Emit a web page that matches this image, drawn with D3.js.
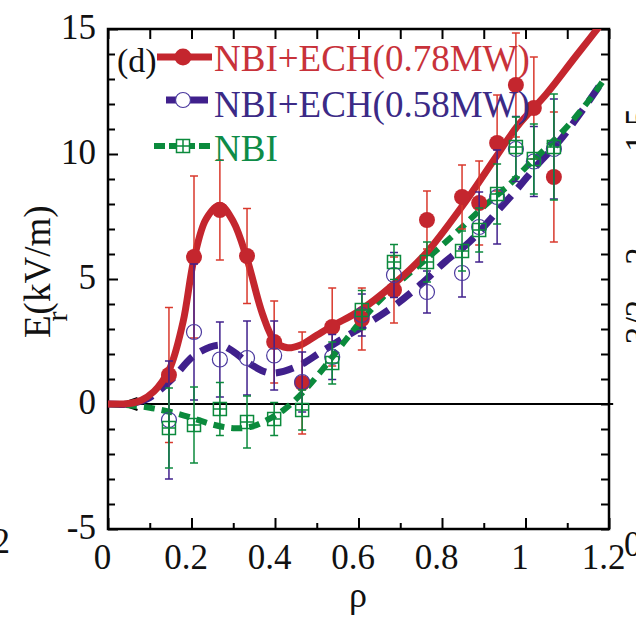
<!DOCTYPE html>
<html>
<head>
<meta charset="utf-8">
<script src="https://cdn.jsdelivr.net/npm/d3@7/dist/d3.min.js"></script>
<style>
  html, body { margin: 0; padding: 0; background: #fff; }
  svg { display: block; font-family: "Liberation Serif", "Times New Roman", serif; }
</style>
</head>
<body>
<svg id="chart" width="636" height="619"></svg>
<script>
'use strict';

// measured points (rho, Er, error)
var rho = [0.146, 0.206, 0.268, 0.333, 0.398, 0.465, 0.537, 0.608, 0.685, 0.764, 0.848, 0.889, 0.932, 0.977, 1.020, 1.068];

var er078 = [1.16, 5.88, 7.76, 5.92, 2.48, 0.84, 3.08, 3.40, 4.56, 7.36, 8.28, 8.04, 10.44, 12.76, 11.84, 9.08];
var err078 = [2.70, 3.24, 2.00, 1.90, 1.64, 2.04, 1.56, 1.24, 1.32, 1.16, 1.28, 1.68, 1.92, 2.08, 2.04, 2.60];

var er058 = [-0.64, 2.88, 1.78, 1.84, 1.94, 0.88, 1.88, 3.56, 5.16, 4.48, 5.24, 7.08, 8.28, 10.2, 9.7, 10.2];
var err058 = [2.36, 2.72, 1.50, 1.48, 1.38, 1.20, 0.90, 0.84, 0.90, 0.84, 0.96, 1.40, 1.88, 1.30, 1.40, 2.00];

var erNBI = [-0.96, -0.84, -0.20, -0.72, -0.60, -0.24, 1.64, 3.76, 5.68, 5.68, 6.12, 6.96, 8.40, 10.28, 9.80, 10.28];
var errNBI = [1.60, 1.52, 1.06, 1.04, 0.66, 0.80, 0.84, 0.78, 0.70, 0.80, 0.80, 0.88, 1.20, 1.20, 1.40, 2.12];

// fitted profiles
var fitRho078 = [0, 0.05, 0.08, 0.11, 0.13, 0.15, 0.18, 0.206, 0.235, 0.268, 0.3, 0.333, 0.37, 0.4, 0.43, 0.46, 0.5, 0.54, 0.6, 0.685, 0.76, 0.85, 0.93, 0.98, 1.05, 1.12, 1.2];
var fit078 = [0, 0.02, 0.15, 0.5, 0.9, 1.5, 3.3, 5.8, 7.4, 7.95, 7.3, 5.8, 3.6, 2.5, 2.25, 2.35, 2.75, 3.15, 3.7, 4.8, 6.0, 7.95, 9.9, 11.1, 12.4, 13.9, 15.6];

var fitRho058 = [0, 0.05, 0.093, 0.12, 0.156, 0.208, 0.268, 0.3, 0.333, 0.388, 0.453, 0.51, 0.57, 0.628, 0.69, 0.75, 0.807, 0.867, 0.927, 0.98, 1.03, 1.08, 1.13, 1.18];
var fit058 = [0, 0, 0.2, 0.5, 1.04, 1.96, 2.35, 2.1, 1.68, 1.24, 1.5, 2.08, 2.7, 3.28, 3.98, 4.8, 5.68, 6.5, 7.6, 8.6, 9.6, 10.5, 11.6, 12.8];

var fitRhoNBI = [0, 0.05, 0.1, 0.15, 0.2, 0.25, 0.3, 0.34, 0.38, 0.42, 0.46, 0.5, 0.55, 0.6, 0.66, 0.72, 0.78, 0.84, 0.9, 0.96, 1.0, 1.05, 1.1, 1.15, 1.185];
var fitNBI = [0, -0.05, -0.15, -0.32, -0.55, -0.82, -0.97, -0.92, -0.65, -0.25, 0.35, 1.1, 2.15, 3.2, 4.3, 5.2, 6.05, 6.95, 7.9, 8.75, 9.45, 10.25, 11.1, 12.1, 12.9];

var legendLabels = ['NBI+ECH(0.78MW)', 'NBI+ECH(0.58MW)', 'NBI'];
var xTicks = [0, 0.2, 0.4, 0.6, 0.8, 1, 1.2];
var xMinor = [0.1, 0.3, 0.5, 0.7, 0.9, 1.1];
var yTicks = [-5, 0, 5, 10, 15];
var yMinor = d3.range(-4, 15, 1).filter(function (d) { return d % 5 !== 0; });

var RED = '#c4262e', RED_BAR = '#d9382c';
var BLUE = '#40208c', BLUE_SYM = '#4a389e';
var GREEN = '#0b8a3c';

var svg = d3.select('#chart');
var pL = 108, pR = 609, pT = 29, pB = 529;

var x = d3.scaleLinear().domain([0, 1.2]).range([pL, pR]);
var y = d3.scaleLinear().domain([-5, 15]).range([pB, pT]);

svg.append('defs').append('clipPath').attr('id', 'plot')
  .append('rect').attr('x', pL).attr('y', pT)
  .attr('width', pR - pL).attr('height', pB - pT);

// axes, ticks pointing inward
function styleAxis(g) {
  g.select('.domain').remove();
  g.selectAll('line').attr('stroke', '#000').attr('stroke-width', 2);
  g.selectAll('text').attr('font-size', 35).attr('fill', '#111')
    .attr('font-family', '"Liberation Serif", serif');
}

svg.append('g').attr('transform', 'translate(0,' + pB + ')')
  .call(d3.axisBottom(x).tickValues(xTicks).tickSize(-11).tickPadding(15)
    .tickFormat(function (d) { return String(d); }))
  .call(styleAxis)
  .selectAll('text').attr('dx', -6);

svg.append('g').attr('transform', 'translate(0,' + pB + ')')
  .call(d3.axisBottom(x).tickValues(xMinor).tickSize(-6).tickFormat(''))
  .call(styleAxis);

svg.append('g').attr('transform', 'translate(0,' + pT + ')')
  .call(d3.axisTop(x).tickValues(xTicks.concat(xMinor)).tickSize(-10).tickFormat(''))
  .call(styleAxis);

svg.append('g').attr('transform', 'translate(' + pL + ',0)')
  .call(d3.axisLeft(y).tickValues(yTicks).tickSize(-10).tickPadding(12)
    .tickFormat(function (d) { return String(d); }))
  .call(styleAxis)
  .selectAll('text').attr('dy', '0.28em');

svg.append('g').attr('transform', 'translate(' + pL + ',0)')
  .call(d3.axisLeft(y).tickValues(yMinor).tickSize(-7).tickFormat(''))
  .call(styleAxis);

svg.append('g').attr('transform', 'translate(' + pR + ',0)')
  .call(d3.axisRight(y).tickValues(yTicks.concat(yMinor)).tickSize(-8).tickFormat(''))
  .call(styleAxis);

svg.append('rect')
  .attr('x', pL).attr('y', pT)
  .attr('width', pR - pL).attr('height', pB - pT)
  .attr('fill', 'none').attr('stroke', '#000').attr('stroke-width', 2.5);

// zero line with arrow head
svg.append('line')
  .attr('x1', x(0.03)).attr('x2', x(1.21)).attr('y1', y(0)).attr('y2', y(0))
  .attr('stroke', '#000').attr('stroke-width', 2);
svg.append('path')
  .attr('d', 'M' + (x(0.03) + 17) + ',' + (y(0) - 6) + 'L' + x(0.03) + ',' + y(0) + 'L' + (x(0.03) + 17) + ',' + (y(0) + 6))
  .attr('fill', 'none').attr('stroke', '#000').attr('stroke-width', 2.2);

// fitted curves
var line = d3.line()
  .x(function (d) { return x(d[0]); })
  .y(function (d) { return y(d[1]); })
  .curve(d3.curveCatmullRom.alpha(0.5));

var curves = svg.append('g').attr('clip-path', 'url(#plot)');

curves.append('path').datum(d3.zip(fitRho058, fit058))
  .attr('d', line).attr('fill', 'none').attr('stroke', BLUE)
  .attr('stroke-width', 7).attr('stroke-dasharray', '18,10');

curves.append('path').datum(d3.zip(fitRhoNBI, fitNBI))
  .attr('d', line).attr('fill', 'none').attr('stroke', GREEN)
  .attr('stroke-width', 6).attr('stroke-dasharray', '11,7');

curves.append('path').datum(d3.zip(fitRho078, fit078))
  .attr('d', line).attr('fill', 'none').attr('stroke', RED)
  .attr('stroke-width', 7).attr('stroke-linecap', 'round');

// error bars
function errorBars(vals, errs, color) {
  var g = svg.append('g').attr('stroke', color).attr('stroke-width', 1.5);
  rho.forEach(function (r, i) {
    var cx = x(r), y1 = y(vals[i] + errs[i]), y2 = y(vals[i] - errs[i]);
    g.append('line').attr('x1', cx).attr('x2', cx).attr('y1', y1).attr('y2', y2);
    g.append('line').attr('x1', cx - 4).attr('x2', cx + 4).attr('y1', y1).attr('y2', y1);
    g.append('line').attr('x1', cx - 4).attr('x2', cx + 4).attr('y1', y2).attr('y2', y2);
  });
}

errorBars(er078, err078, RED_BAR);
svg.append('g').selectAll('circle').data(rho).enter().append('circle')
  .attr('cx', function (d) { return x(d); })
  .attr('cy', function (d, i) { return y(er078[i]); })
  .attr('r', 8).attr('fill', RED);

errorBars(er058, err058, BLUE);
svg.append('g').selectAll('circle').data(rho).enter().append('circle')
  .attr('cx', function (d) { return x(d); })
  .attr('cy', function (d, i) { return y(er058[i]); })
  .attr('r', 7.5).attr('fill', 'none').attr('stroke', BLUE_SYM).attr('stroke-width', 1.2);

errorBars(erNBI, errNBI, GREEN);
function square(g, cx, cy) {
  g.append('rect').attr('x', cx - 6.5).attr('y', cy - 6.5).attr('width', 13).attr('height', 13)
    .attr('fill', 'none').attr('stroke', GREEN).attr('stroke-width', 1.5);
  g.append('path').attr('d', 'M' + (cx - 6.5) + ',' + cy + 'H' + (cx + 6.5) + 'M' + cx + ',' + (cy - 6.5) + 'V' + (cy + 6.5))
    .attr('stroke', GREEN).attr('stroke-width', 1.5);
}
var sq = svg.append('g');
rho.forEach(function (r, i) { square(sq, x(r), y(erNBI[i])); });

// legend
var leg = svg.append('g');
leg.append('text').attr('x', 117).attr('y', 72).attr('font-size', 34).attr('fill', '#111').text('(d)');

leg.append('line').attr('x1', 157).attr('x2', 212).attr('y1', 57).attr('y2', 57)
  .attr('stroke', RED).attr('stroke-width', 7);
leg.append('circle').attr('cx', 183).attr('cy', 57).attr('r', 8.5).attr('fill', RED);

leg.append('line').attr('x1', 166).attr('x2', 178).attr('y1', 100).attr('y2', 100)
  .attr('stroke', BLUE).attr('stroke-width', 7);
leg.append('line').attr('x1', 188).attr('x2', 208).attr('y1', 100).attr('y2', 100)
  .attr('stroke', BLUE).attr('stroke-width', 7);
leg.append('circle').attr('cx', 183).attr('cy', 100).attr('r', 7.5)
  .attr('fill', '#fff').attr('stroke', BLUE_SYM).attr('stroke-width', 1.2);

leg.append('line').attr('x1', 154).attr('x2', 211).attr('y1', 146).attr('y2', 146)
  .attr('stroke', GREEN).attr('stroke-width', 6).attr('stroke-dasharray', '11,4');
var lsq = leg.append('g');
lsq.append('rect').attr('x', 176).attr('y', 139).attr('width', 14).attr('height', 14).attr('fill', '#fff');
square(lsq, 183, 146);

var legColors = ['#c8323a', '#3b2a86', '#0e8c47'];
var legY = [71, 117, 161];
leg.selectAll('text.lab').data(legendLabels).enter().append('text')
  .attr('class', 'lab')
  .attr('x', 214)
  .attr('y', function (d, i) { return legY[i]; })
  .attr('font-size', 37)
  .attr('fill', function (d, i) { return legColors[i]; })
  .text(function (d) { return d; });

// axis titles
svg.append('text').attr('x', 358).attr('y', 607).attr('text-anchor', 'middle')
  .attr('font-size', 36).attr('fill', '#111').text('ρ');

var yl = svg.append('text').attr('transform', 'translate(50,338) rotate(-90)')
  .attr('font-size', 37).attr('fill', '#111');
yl.append('tspan').text('E');
yl.append('tspan').attr('dy', 17).attr('dx', -6).attr('font-size', 30).text('r');
yl.append('tspan').attr('dy', -17).attr('dx', -3).text('(kV/m)');

// clipped labels of neighbouring panels
svg.append('text').attr('x', 10).attr('y', 553).attr('text-anchor', 'end')
  .attr('font-size', 35).attr('fill', '#111').text('2');
svg.append('text').attr('x', 624).attr('y', 556)
  .attr('font-size', 35).attr('fill', '#111').text('0');
[['1.5', 130], ['2', 256], ['3/2', 322]].forEach(function (t) {
  svg.append('text').attr('transform', 'translate(650,' + t[1] + ') rotate(-90)')
    .attr('text-anchor', 'middle').attr('font-size', 35).attr('fill', '#111').text(t[0]);
});
</script>
</body>
</html>
